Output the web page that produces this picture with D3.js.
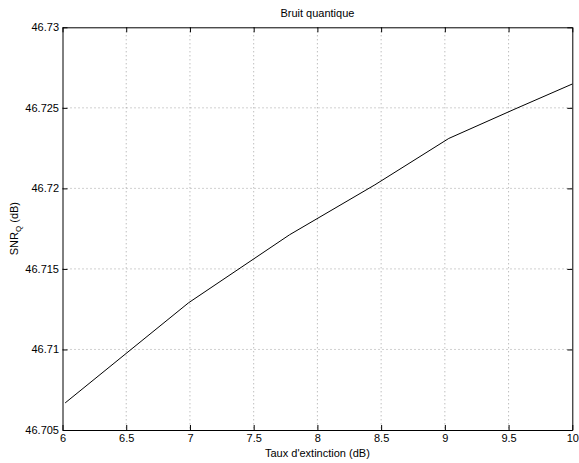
<!DOCTYPE html>
<html>
<head>
<meta charset="utf-8">
<script src="https://cdn.jsdelivr.net/npm/d3@7"></script>
<style>
  html, body { margin: 0; padding: 0; background: #fff; }
  svg { display: block; }
  text { font-family: "Liberation Sans", Arial, Helvetica, sans-serif; }
</style>
</head>
<body>
<div id="chart"></div>
<script>
// Data
const extinctionDb = [6.0206, 6.9897, 7.7815, 8.4510, 9.0309, 9.5424, 10.0];
const snrQ = [46.70668, 46.71290, 46.71712, 46.72022, 46.72310, 46.72490, 46.72648];
const xTicks = [6, 6.5, 7, 7.5, 8, 8.5, 9, 9.5, 10];
const yTicks = [46.705, 46.71, 46.715, 46.72, 46.725, 46.73];
const titleText = "Bruit quantique";
const xLabelText = "Taux d'extinction (dB)";

const W = 579, H = 463;
const m = { left: 62.5, right: 579 - 572.3, top: 27.3, bottom: 463 - 430 };
const iw = W - m.left - m.right, ih = H - m.top - m.bottom;

const svg = d3.select("#chart").append("svg").attr("width", W).attr("height", H);
const g = svg.append("g").attr("transform", `translate(${m.left},${m.top})`);

const x = d3.scaleLinear().domain([6, 10]).range([0, iw]);
const y = d3.scaleLinear().domain([46.705, 46.73]).range([ih, 0]);

// Grid
const grid = g.append("g").attr("stroke", "#000").attr("stroke-width", 0.6)
  .attr("stroke-dasharray", "1,3").attr("opacity", 0.6);
xTicks.slice(1, -1).forEach(t => grid.append("line")
  .attr("x1", x(t)).attr("x2", x(t)).attr("y1", 0).attr("y2", ih));
yTicks.slice(1, -1).forEach(t => grid.append("line")
  .attr("x1", 0).attr("x2", iw).attr("y1", y(t)).attr("y2", y(t)));

// Axes (ticks inward)
const fmt = d => String(+d.toFixed(4));
const tl = 5;
const xb = g.append("g").attr("transform", `translate(0,${ih})`)
  .call(d3.axisBottom(x).tickValues(xTicks).tickFormat(fmt).tickSizeInner(-tl).tickSizeOuter(0).tickPadding(4));
const yl = g.append("g")
  .call(d3.axisLeft(y).tickValues(yTicks).tickFormat(fmt).tickSizeInner(-tl).tickSizeOuter(0).tickPadding(3.5));
const xt = g.append("g")
  .call(d3.axisTop(x).tickValues(xTicks).tickFormat("").tickSizeInner(-tl).tickSizeOuter(0));
const yr = g.append("g").attr("transform", `translate(${iw},0)`)
  .call(d3.axisRight(y).tickValues(yTicks).tickFormat("").tickSizeInner(-tl).tickSizeOuter(0));
[xb, yl, xt, yr].forEach(a => {
  a.selectAll(".domain").attr("stroke", "#000").attr("stroke-width", 1);
  a.selectAll(".tick line").attr("stroke", "#000").attr("stroke-width", 1);
  a.selectAll("text").attr("fill", "#000").style("font-size", "11px")
    .style("font-family", "'Liberation Sans', Arial, Helvetica, sans-serif");
});

// Line
const line = d3.line().x((d, i) => x(extinctionDb[i])).y(d => y(d));
g.append("path").datum(snrQ).attr("d", line)
  .attr("fill", "none").attr("stroke", "#000").attr("stroke-width", 1);

// Title
svg.append("text").attr("x", m.left + iw / 2).attr("y", 17)
  .attr("text-anchor", "middle").style("font-size", "11px").text(titleText);

// X label
svg.append("text").attr("x", m.left + iw / 2).attr("y", 457)
  .attr("text-anchor", "middle").style("font-size", "11px").text(xLabelText);

// Y label with subscript
const ylab = svg.append("text")
  .attr("transform", `translate(18,${m.top + ih / 2}) rotate(-90)`)
  .attr("text-anchor", "middle").style("font-size", "11px");
ylab.append("tspan").text("SNR");
ylab.append("tspan").attr("dy", 3).style("font-size", "8px").text("Q");
ylab.append("tspan").attr("dy", -3).text(" (dB)");
</script>
</body>
</html>
